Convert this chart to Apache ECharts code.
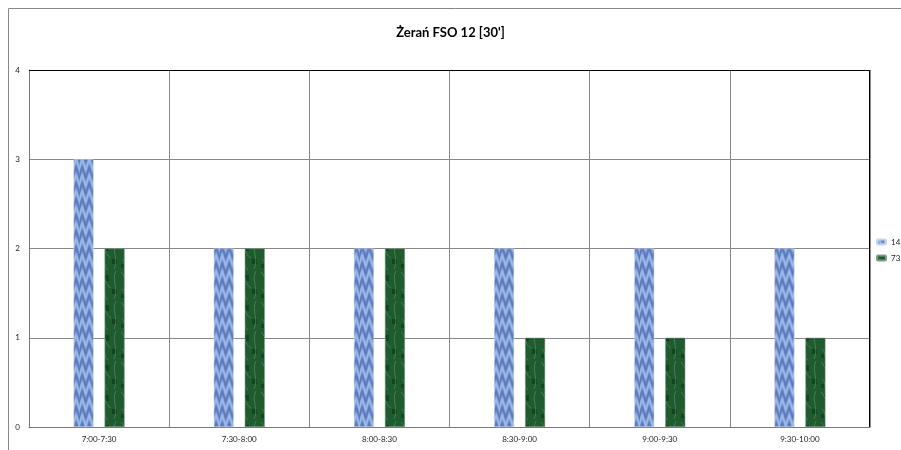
<!DOCTYPE html>
<html>
<head>
<meta charset="utf-8">
<script src="https://cdn.jsdelivr.net/npm/echarts@6/dist/echarts.min.js"></script>
<style>
html,body{margin:0;padding:0;background:#fff;}
#chart{width:901px;height:450px;}
</style>
</head>
<body>
<div id="chart"></div>
<script>
var titleText = "Żerań FSO 12 [30']";
var categories = ["7:00-7:30","7:30-8:00","8:00-8:30","8:30-9:00","9:00-9:30","9:30-10:00"];
var seriesNames = ["14","73"];
var values14 = [3,2,2,2,2,2];
var values73 = [2,2,2,1,1,1];
var yTicks = [0,1,2,3,4];

function makeBluePattern(){
  var c = document.createElement('canvas');
  c.width = 20; c.height = 16;
  var ctx = c.getContext('2d');
  for (var y = 0; y < 16; y++) {
    for (var x = 0; x < 20; x++) {
      var w = Math.sin((y / 16) * Math.PI * 2 + Math.sin(x * 0.9) * 1.6) * 0.5 + 0.5;
      var l = 0.25 + 0.55 * w;
      var r = Math.round(60 + 120 * l), g = Math.round(90 + 120 * l), b = Math.round(165 + 85 * l);
      ctx.fillStyle = 'rgb(' + Math.min(r,255) + ',' + Math.min(g,255) + ',' + Math.min(b,255) + ')';
      ctx.fillRect(x, y, 1, 1);
    }
  }
  return c;
}
function makeGreenPattern(){
  var c = document.createElement('canvas');
  c.width = 20; c.height = 30;
  var ctx = c.getContext('2d');
  ctx.fillStyle = '#1f5b2f';
  ctx.fillRect(0,0,20,30);
  ctx.fillStyle = 'rgba(12,55,25,0.6)';
  ctx.fillRect(4,5,5,6); ctx.fillRect(12,19,5,5); ctx.fillRect(1,24,3,4);
  ctx.strokeStyle = 'rgba(100,175,120,0.45)';
  ctx.lineWidth = 1;
  ctx.beginPath();
  ctx.moveTo(1,2); ctx.bezierCurveTo(7,8,4,14,11,18);
  ctx.moveTo(16,1); ctx.bezierCurveTo(11,10,19,19,14,29);
  ctx.moveTo(2,19); ctx.bezierCurveTo(7,23,3,27,8,30);
  ctx.stroke();
  return c;
}

var chart = echarts.init(document.getElementById('chart'), null, {renderer:'canvas'});
var font = 'Lato, "Liberation Sans", sans-serif';
chart.setOption({
  animation:false,
  backgroundColor:'#fff',
  title:{
    text:titleText, left:'center', top:21,
    textStyle:{fontFamily:font, fontWeight:'bold', fontSize:13, color:'#000'}
  },
  graphic:[
    {type:'rect', shape:{x:8.5,y:8.5,width:1000,height:1000}, style:{fill:'none', stroke:'#888', lineWidth:1}, silent:true, z:-1},
    {type:'polyline', shape:{points:[[29,70.5],[869.5,70.5],[869.5,427]]}, style:{fill:'none', stroke:'#000', lineWidth:1}, silent:true, z:10}
  ],
  legend:{
    orient:'vertical', left:876, top:238, padding:0,
    itemWidth:9, itemHeight:5, itemGap:8,
    textStyle:{fontFamily:font, fontSize:8, color:'#222'},
    data:seriesNames
  },
  grid:{left:29, right:31, top:70, bottom:23, containLabel:false},
  xAxis:{
    type:'category', data:categories,
    axisLine:{lineStyle:{color:'#777'}},
    axisTick:{show:false},
    splitLine:{show:true, lineStyle:{color:'#888'}},
    axisLabel:{fontFamily:font, fontSize:8, color:'#222', margin:8}
  },
  yAxis:{
    type:'value', min:yTicks[0], max:yTicks[yTicks.length-1], interval:1,
    axisLine:{show:true, lineStyle:{color:'#777'}},
    axisTick:{show:false},
    splitLine:{lineStyle:{color:'#888'}},
    axisLabel:{fontFamily:font, fontSize:8, color:'#222', margin:9}
  },
  series:[
    {name:seriesNames[0], type:'bar', data:values14, barWidth:20, barGap:'55%',
     itemStyle:{color:{image:makeBluePattern(), repeat:'repeat'}, borderColor:'#c8d4ee', borderWidth:0.5}},
    {name:seriesNames[1], type:'bar', data:values73, barWidth:20,
     itemStyle:{color:{image:makeGreenPattern(), repeat:'repeat'}, borderColor:'#7f9a85', borderWidth:0.5}}
  ]
});
</script>
</body>
</html>
